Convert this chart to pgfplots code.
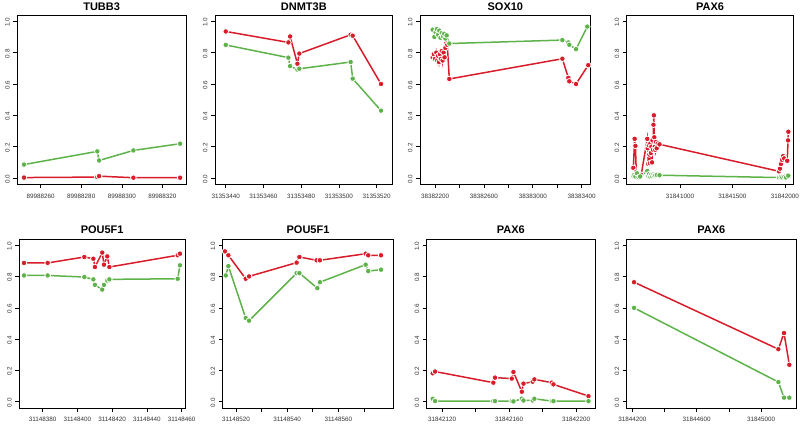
\documentclass[border=0pt]{standalone}
\usepackage{fontspec}
\setmainfont{Liberation Sans}
\usepackage{pgfplots}
\pgfplotsset{compat=1.18}
\definecolor{rcol}{RGB}{216,28,42}
\definecolor{gcol}{RGB}{94,178,74}
\pgfplotsset{
  panel/.style={
    scale only axis,
    every axis title shift=0pt,
    ymin=-0.04, ymax=1.04,
    ytick={0,0.2,0.4,0.6,0.8,1.0},
    yticklabels={0.0,0.2,0.4,0.6,0.8,1.0},
    tick align=outside,
    major tick length=4pt,
    xtick pos=left, ytick pos=left,
    tick style={black, line width=0.6pt},
    axis line style={line width=0.8pt},
    ticklabel style={font=\fontsize{6.3}{7}\selectfont, text=black!80},
    yticklabel style={rotate=90, anchor=south, xshift=-1pt},
    xticklabel style={yshift=-2pt},
    title style={font=\bfseries\fontsize{11}{12}\selectfont, at={(0.5,1)}, anchor=base, yshift=4pt},
    every axis plot/.append style={line width=1.5pt, mark=*, mark size=2.8pt},
  },
  rd/.style={color=rcol, mark options={fill=rcol, draw=white, line width=0.8pt}},
  gr/.style={color=gcol, mark options={fill=gcol, draw=white, line width=0.8pt}},
}
\begin{document}
\begin{tikzpicture}[x=1pt,y=1pt]
\path[use as bounding box] (0,0) rectangle (800,429);

% Panel 1 TUBB3 (offset 89988200)
\begin{axis}[panel, at={(17.3pt,244.7pt)}, anchor=south west, width=168.7pt, height=169.3pt,
  title={TUBB3}, xmin=48.5, xmax=131.6,
  xtick={60,80,100,120}, xticklabels={89988260,89988280,89988300,89988320}]
\addplot[rd] coordinates {(51.8,0.003)(87.9,0.006)(88.8,0.012)(105.7,0.002)(128.7,0.002)};
\addplot[gr] coordinates {(51.8,0.086)(87.9,0.170)(88.8,0.112)(105.7,0.176)(128.7,0.219)};
\end{axis}

% Panel 2 DNMT3B (offset 31353400)
\begin{axis}[panel, at={(215pt,244.7pt)}, anchor=south west, width=177.7pt, height=169.3pt,
  title={DNMT3B}, xmin=34.3, xmax=128.5,
  xtick={40,60,80,100,120}, xticklabels={31353440,31353460,31353480,31353500,31353520}]
\addplot[rd] coordinates {(40,0.935)(73.2,0.865)(74.1,0.903)(78.0,0.729)(79.0,0.794)(106.2,0.914)(107.3,0.908)(122.3,0.600)};
\addplot[gr] coordinates {(40,0.849)(73.2,0.768)(74.1,0.714)(78.0,0.692)(79.0,0.697)(106.2,0.740)(107.3,0.634)(122.3,0.430)};
\end{axis}

% Panel 3 SOX10 (offset 38382000)
\begin{axis}[panel, at={(420pt,244.7pt)}, anchor=south west, width=170.7pt, height=169.3pt,
  title={SOX10}, xmin=77, xmax=1474,
  xtick={200,400,600,800,1000,1200,1400}, xticklabels={38382200,,38382600,,38383000,,38383400}]
\addplot[rd] coordinates {(181,0.77)(190,0.79)(200,0.76)(210,0.80)(218,0.75)(225,0.78)(232,0.74)(240,0.79)(248,0.76)(255,0.81)(262,0.75)(270,0.80)(278,0.77)(285,0.83)(292,0.86)(300,0.85)(317,0.632)(1242,0.761)(1291,0.639)(1299,0.617)(1354,0.600)(1454,0.720)};
\addplot[gr] coordinates {(181,0.946)(195,0.90)(205,0.93)(215,0.95)(225,0.915)(235,0.94)(245,0.895)(255,0.925)(265,0.905)(275,0.92)(285,0.89)(295,0.91)(317,0.858)(1242,0.880)(1291,0.865)(1299,0.850)(1354,0.822)(1446,0.966)};
\end{axis}

% Panel 4 PAX6 (offset 31840000)
\begin{axis}[panel, at={(626.7pt,244.7pt)}, anchor=south west, width=166.6pt, height=169.3pt,
  title={PAX6}, xmin=492, xmax=2080,
  xtick={1000,1500,2000}, xticklabels={31841000,31841500,31842000}]
\addplot[rd] coordinates {(555,0.065)(568,0.25)(575,0.205)(583,0.04)(595,0.03)(612,0.025)(630,0.02)(688,0.25)(692,0.19)(697,0.09)(703,0.21)(708,0.15)(713,0.095)(718,0.22)(723,0.16)(728,0.20)(733,0.10)(738,0.24)(743,0.18)(747,0.34)(751,0.40)(755,0.26)(760,0.20)(765,0.18)(770,0.23)(778,0.19)(788,0.22)(805,0.215)(1943,0.043)(1953,0.06)(1963,0.09)(1973,0.116)(1983,0.14)(1993,0.125)(2022,0.11)(2030,0.24)(2033,0.295)};
\addplot[gr] coordinates {(555,0.015)(565,0.02)(575,0.01)(590,0.03)(605,0.005)(620,0.01)(688,0.045)(695,0.015)(705,0.025)(715,0.01)(725,0.02)(735,0.012)(745,0.022)(755,0.015)(765,0.018)(780,0.02)(805,0.018)(1943,0.003)(1960,0.005)(1975,0.004)(1995,0.008)(2010,0.004)(2032,0.015)};
\end{axis}

% Panel 5 POU5F1 (offset 31148300)
\begin{axis}[panel, at={(19.3pt,21pt)}, anchor=south west, width=165.7pt, height=169pt,
  title={POU5F1}, title style={yshift=1.5pt}, xmin=66.6, xmax=161.9,
  xtick={80,100,120,140,160}, xticklabels={31148380,31148400,31148420,31148440,31148460}]
\addplot[rd] coordinates {(69.3,0.887)(82.9,0.887)(104.0,0.925)(109.2,0.914)(110.1,0.861)(114.3,0.953)(115.3,0.876)(117.2,0.929)(118.4,0.861)(157.7,0.936)(159.0,0.946)};
\addplot[gr] coordinates {(69.3,0.807)(82.9,0.807)(104.0,0.797)(109.2,0.782)(110.1,0.747)(114.3,0.717)(115.3,0.747)(117.2,0.775)(118.4,0.782)(157.7,0.786)(159.0,0.872)};
\end{axis}

% Panel 6 POU5F1 (offset 31148500)
\begin{axis}[panel, at={(222.7pt,21pt)}, anchor=south west, width=170.6pt, height=169pt,
  title={POU5F1}, title style={yshift=1.5pt}, xmin=14.8, xmax=81.5,
  xtick={20,30,40,50,60,70}, xticklabels={31148520,,31148540,,31148560,}]
\addplot[rd] coordinates {(15.7,0.961)(17.0,0.936)(23.8,0.786)(25.1,0.801)(43.7,0.889)(44.8,0.925)(51.5,0.904)(52.8,0.904)(70.7,0.946)(71.7,0.936)(76.7,0.936)};
\addplot[gr] coordinates {(16.0,0.807)(17.0,0.867)(23.8,0.535)(25.1,0.518)(43.7,0.822)(44.8,0.822)(51.8,0.726)(52.8,0.764)(70.7,0.876)(71.7,0.835)(76.7,0.844)};
\end{axis}

% Panel 7 PAX6 (offset 31842100)
\begin{axis}[panel, at={(426.7pt,21pt)}, anchor=south west, width=168.3pt, height=169pt,
  title={PAX6}, title style={yshift=1.5pt}, xmin=10.8, xmax=111.3,
  xtick={20,40,60,80,100}, xticklabels={31842120,,31842160,,31842200}]
\addplot[rd] coordinates {(14.4,0.182)(15.8,0.193)(50.6,0.122)(51.6,0.154)(61.6,0.148)(62.6,0.19)(67.6,0.064)(68.6,0.116)(74.1,0.128)(75.1,0.143)(85.5,0.122)(86.5,0.111)(107.4,0.036)};
\addplot[gr] coordinates {(14.4,0.019)(15.8,0.004)(50.6,0.004)(51.6,0.004)(61.6,0.004)(62.6,0.002)(67.6,0.019)(68.6,0.008)(74.1,0.008)(75.1,0.019)(85.5,0.004)(86.5,0.004)(107.4,0.004)};
\end{axis}

% Panel 8 PAX6 (offset 31844000)
\begin{axis}[panel, at={(626.7pt,21pt)}, anchor=south west, width=169.3pt, height=169pt,
  title={PAX6}, title style={yshift=1.5pt}, xmin=164.8, xmax=1217.6,
  xtick={200,400,600,800,1000}, xticklabels={31844200,,31844600,,31845000}]
\addplot[rd] coordinates {(210.4,0.764)(1107.8,0.336)(1143,0.439)(1176,0.236)};
\addplot[gr] coordinates {(210.4,0.600)(1107.8,0.126)(1143,0.026)(1176,0.026)};
\end{axis}
\end{tikzpicture}
\end{document}
